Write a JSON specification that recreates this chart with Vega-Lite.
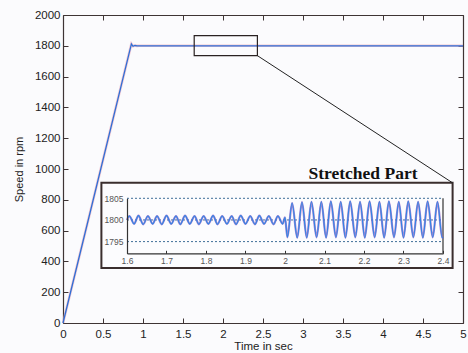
{
  "$schema": "https://vega.github.io/schema/vega-lite/v6.json",
  "width": 400,
  "height": 308,
  "autosize": {"type": "none"},
  "padding": {"left": 63, "top": 15, "right": 5, "bottom": 30},
  "background": "#fbfbfd",
  "config": {
    "view": {"stroke": null},
    "font": "Liberation Sans",
    "axis": {
      "grid": false,
      "labelFont": "Liberation Sans",
      "titleFont": "Liberation Sans",
      "domainColor": "#3e3434",
      "tickColor": "#3e3434",
      "labelColor": "#222222",
      "titleColor": "#222222",
      "titleFontWeight": "normal",
      "labelFlush": false,
      "labelOverlap": false
    }
  },
  "datasets": {
    "speed": [
      {"t": 0, "v": 0},
      {"t": 0.855, "v": 1812},
      {"t": 0.875, "v": 1797},
      {"t": 0.9, "v": 1802},
      {"t": 0.925, "v": 1799.5},
      {"t": 0.95, "v": 1800},
      {"t": 5, "v": 1800}
    ],
    "boxes": [
      {"name": "inset", "x0": 0.48, "x1": 4.87, "y0": 357, "y1": 910},
      {"name": "zoom", "x0": 1.64, "x1": 2.43, "y0": 1736, "y1": 1866}
    ],
    "connector": [
      {"x0": 2.43, "y0": 1736, "x1": 4.87, "y1": 910}
    ],
    "label": [
      {"x": 3.75, "y": 934, "text": "Stretched Part"}
    ],
    "grid": [
      {"g": 1795, "a": 1.6, "b": 2.4},
      {"g": 1800, "a": 1.6, "b": 2.4},
      {"g": 1805, "a": 1.6, "b": 2.4}
    ],
    "border": [
      {"x": 2.4, "lo": 1792.3, "hi": 1805}
    ],
    "zoomed": [
      {"t": 1.600, "v": 1800.0},
      {"t": 1.606, "v": 1800.9},
      {"t": 1.618, "v": 1799.1},
      {"t": 1.629, "v": 1801.0},
      {"t": 1.641, "v": 1799.0},
      {"t": 1.653, "v": 1800.9},
      {"t": 1.665, "v": 1799.1},
      {"t": 1.676, "v": 1800.9},
      {"t": 1.688, "v": 1799.0},
      {"t": 1.700, "v": 1801.0},
      {"t": 1.712, "v": 1799.1},
      {"t": 1.724, "v": 1800.9},
      {"t": 1.735, "v": 1799.0},
      {"t": 1.747, "v": 1801.0},
      {"t": 1.759, "v": 1799.1},
      {"t": 1.771, "v": 1800.9},
      {"t": 1.782, "v": 1799.0},
      {"t": 1.794, "v": 1800.9},
      {"t": 1.806, "v": 1799.1},
      {"t": 1.818, "v": 1801.0},
      {"t": 1.829, "v": 1799.0},
      {"t": 1.841, "v": 1800.9},
      {"t": 1.853, "v": 1799.1},
      {"t": 1.865, "v": 1800.9},
      {"t": 1.876, "v": 1799.0},
      {"t": 1.888, "v": 1801.0},
      {"t": 1.900, "v": 1799.1},
      {"t": 1.912, "v": 1800.9},
      {"t": 1.924, "v": 1799.0},
      {"t": 1.935, "v": 1801.0},
      {"t": 1.947, "v": 1799.1},
      {"t": 1.959, "v": 1800.9},
      {"t": 1.971, "v": 1799.0},
      {"t": 1.982, "v": 1800.9},
      {"t": 1.994, "v": 1799.1},
      {"t": 2.000, "v": 1800.6},
      {"t": 2.006, "v": 1796.0},
      {"t": 2.018, "v": 1803.9},
      {"t": 2.031, "v": 1795.9},
      {"t": 2.043, "v": 1804.1},
      {"t": 2.055, "v": 1795.9},
      {"t": 2.067, "v": 1804.2},
      {"t": 2.080, "v": 1796.0},
      {"t": 2.092, "v": 1804.2},
      {"t": 2.104, "v": 1795.9},
      {"t": 2.116, "v": 1804.3},
      {"t": 2.129, "v": 1796.0},
      {"t": 2.141, "v": 1804.2},
      {"t": 2.153, "v": 1795.9},
      {"t": 2.165, "v": 1804.3},
      {"t": 2.178, "v": 1796.0},
      {"t": 2.190, "v": 1804.2},
      {"t": 2.202, "v": 1795.9},
      {"t": 2.214, "v": 1804.3},
      {"t": 2.227, "v": 1796.0},
      {"t": 2.239, "v": 1804.2},
      {"t": 2.251, "v": 1795.9},
      {"t": 2.263, "v": 1804.3},
      {"t": 2.276, "v": 1796.0},
      {"t": 2.288, "v": 1804.2},
      {"t": 2.300, "v": 1795.9},
      {"t": 2.312, "v": 1804.3},
      {"t": 2.325, "v": 1796.0},
      {"t": 2.337, "v": 1804.2},
      {"t": 2.349, "v": 1795.9},
      {"t": 2.361, "v": 1804.3},
      {"t": 2.374, "v": 1796.0},
      {"t": 2.386, "v": 1804.2},
      {"t": 2.398, "v": 1795.9},
      {"t": 2.400, "v": 1796.0}
    ],
    "mirror": [
      {"x": 0, "y": 0}
    ]
  },
  "layer": [
    {
      "layer": [
        {
          "data": {"name": "boxes"},
          "transform": [{"filter": "datum.name === 'inset'"}],
          "mark": {"type": "rect", "fill": "#fcfcfe", "stroke": "#3a2e2e", "strokeWidth": 2},
          "encoding": {
            "x": {
              "field": "x0", "type": "quantitative",
              "scale": {"domain": [0, 5], "nice": false, "zero": false},
              "axis": {
                "orient": "bottom", "title": "Time in sec",
                "values": [0, 0.5, 1, 1.5, 2, 2.5, 3, 3.5, 4, 4.5, 5], "tickCount": 30,
                "format": "~g", "tickSize": -5, "labelPadding": 10,
                "labelOverlap": false, "labelFlush": false,
                "labelFontSize": 11.5, "titleFontSize": 11.5, "titlePadding": 1,
                "domainWidth": 1.2
              }
            },
            "x2": {"field": "x1"},
            "y": {
              "field": "y0", "type": "quantitative",
              "scale": {"domain": [0, 2000], "nice": false, "zero": false},
              "axis": {
                "orient": "left", "title": "Speed in rpm",
                "values": [0, 200, 400, 600, 800, 1000, 1200, 1400, 1600, 1800, 2000], "tickCount": 30,
                "format": "d", "tickSize": -5, "labelPadding": 8,
                "labelOverlap": false, "labelFlush": false,
                "labelFontSize": 11.5, "titleFontSize": 11, "titlePadding": 10,
                "domainWidth": 1.2
              }
            },
            "y2": {"field": "y1"}
          }
        },
        {
          "data": {"name": "speed"},
          "mark": {"type": "line", "stroke": "#e8a3b6", "strokeWidth": 2.6, "opacity": 0.6},
          "encoding": {
            "x": {"field": "t", "type": "quantitative"},
            "y": {"field": "v", "type": "quantitative"}
          }
        },
        {
          "data": {"name": "speed"},
          "mark": {"type": "line", "stroke": "#2f6fd6", "strokeWidth": 1.3},
          "encoding": {
            "x": {"field": "t", "type": "quantitative"},
            "y": {"field": "v", "type": "quantitative"}
          }
        },
        {
          "data": {"name": "boxes"},
          "transform": [{"filter": "datum.name === 'zoom'"}],
          "mark": {"type": "rect", "fill": null, "fillOpacity": 0, "stroke": "#2a2222", "strokeWidth": 1.2},
          "encoding": {
            "x": {"field": "x0", "type": "quantitative"},
            "x2": {"field": "x1"},
            "y": {"field": "y0", "type": "quantitative"},
            "y2": {"field": "y1"}
          }
        },
        {
          "data": {"name": "connector"},
          "mark": {"type": "rule", "stroke": "#222222", "strokeWidth": 1},
          "encoding": {
            "x": {"field": "x0", "type": "quantitative"},
            "y": {"field": "y0", "type": "quantitative"},
            "x2": {"field": "x1"},
            "y2": {"field": "y1"}
          }
        },
        {
          "data": {"name": "label"},
          "mark": {"type": "text", "font": "Liberation Serif", "fontWeight": "bold", "fontSize": 17.5, "align": "center", "baseline": "alphabetic", "color": "#111111"},
          "encoding": {
            "x": {"field": "x", "type": "quantitative"},
            "y": {"field": "y", "type": "quantitative"},
            "text": {"field": "text"}
          }
        }
      ]
    },
    {
      "data": {"name": "mirror"},
      "mark": {"type": "point", "opacity": 0},
      "encoding": {
        "x": {
          "field": "x", "type": "quantitative",
          "scale": {"domain": [0, 5], "nice": false, "zero": false},
          "axis": {
            "orient": "top", "title": null, "labels": false,
            "values": [0, 0.5, 1, 1.5, 2, 2.5, 3, 3.5, 4, 4.5, 5], "tickCount": 30,
            "tickSize": -5, "domainWidth": 1.2
          }
        },
        "y": {
          "field": "y", "type": "quantitative",
          "scale": {"domain": [0, 2000], "nice": false, "zero": false},
          "axis": {
            "orient": "right", "title": null, "labels": false,
            "values": [0, 200, 400, 600, 800, 1000, 1200, 1400, 1600, 1800, 2000], "tickCount": 30,
            "tickSize": -5, "domainWidth": 1.2
          }
        }
      }
    },
    {
      "layer": [
        {
          "data": {"name": "grid"},
          "mark": {"type": "rule", "stroke": "#3f6f99", "strokeWidth": 1, "strokeDash": [2, 2]},
          "encoding": {
            "x": {
              "field": "a", "type": "quantitative",
              "scale": {"domain": [1.6, 2.4], "range": [64, 380], "nice": false, "zero": false},
              "axis": {
                "orient": "bottom", "offset": -69.7, "title": null, "zindex": 2,
                "values": [1.6, 1.7, 1.8, 1.9, 2, 2.1, 2.2, 2.3, 2.4], "tickCount": 30,
                "format": "~g", "tickSize": -3, "labelPadding": 6,
                "labelOverlap": false, "labelFlush": false,
                "labelFontSize": 8.5, "labelColor": "#555555",
                "domainColor": "#333333", "tickColor": "#333333", "domainWidth": 1.2
              }
            },
            "x2": {"field": "b"},
            "y": {
              "field": "g", "type": "quantitative",
              "scale": {"domain": [1792.3, 1805], "range": [238.3, 183.3], "nice": false, "zero": false},
              "axis": {
                "orient": "left", "offset": -64, "title": null, "zindex": 2,
                "values": [1795, 1800, 1805], "format": "d", "tickCount": 30,
                "labelOverlap": false, "labelFlush": false,
                "ticks": false, "labelPadding": 4,
                "labelFontSize": 8.5, "labelColor": "#555555",
                "domainColor": "#333333", "domainWidth": 1.2
              }
            }
          }
        },
        {
          "data": {"name": "border"},
          "mark": {"type": "rule", "stroke": "#333333", "strokeWidth": 1.2},
          "encoding": {
            "x": {"field": "x", "type": "quantitative"},
            "y": {"field": "lo", "type": "quantitative"},
            "y2": {"field": "hi"}
          }
        },
        {
          "data": {"name": "zoomed"},
          "mark": {"type": "line", "stroke": "#8a5cc4", "strokeWidth": 2.2, "interpolate": "monotone", "opacity": 0.75},
          "encoding": {
            "x": {"field": "t", "type": "quantitative"},
            "y": {"field": "v", "type": "quantitative"}
          }
        },
        {
          "data": {"name": "zoomed"},
          "mark": {"type": "line", "stroke": "#2f86e4", "strokeWidth": 1.1, "interpolate": "monotone"},
          "encoding": {
            "x": {"field": "t", "type": "quantitative"},
            "y": {"field": "v", "type": "quantitative"}
          }
        }
      ]
    }
  ],
  "resolve": {
    "scale": {"x": "independent", "y": "independent"},
    "axis": {"x": "independent", "y": "independent"}
  }
}
